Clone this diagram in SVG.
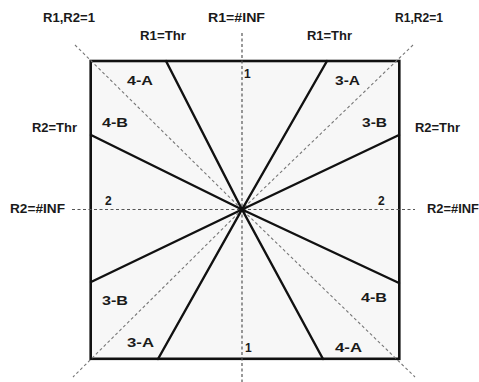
<svg xmlns="http://www.w3.org/2000/svg" width="479" height="382" viewBox="0 0 479 382">
<style>
.t{font-family:"Liberation Sans",Arial,sans-serif;font-size:12px;font-weight:bold;fill:#1a1a1a}
.dash{stroke:#555;stroke-width:1.2;stroke-dasharray:3 2.5;fill:none}
.diag{stroke:#777;stroke-width:1.1;stroke-dasharray:3 2.5;fill:none}
.solid{stroke:#111;stroke-width:2.4;fill:none;stroke-linecap:round}
</style>
<rect width="479" height="382" fill="#fff"/>
<g id="frame">
<rect x="90.7" y="61" width="308.6" height="297.8" fill="#f7f7f7" stroke="#111" stroke-width="2.6"/>
</g>
<g id="connectors">
<line class="dash" x1="242" y1="33" x2="242" y2="382"/>
<line class="dash" x1="72" y1="209.5" x2="415" y2="209.5"/>
<path class="diag" d="M75 45 L242 209.5 L415 377"/>
<path class="diag" d="M413 45 L242 209.5 L73 377"/>
<path class="solid" d="M166 61 L242 209.5 L327 61"/>
<path class="solid" d="M91 135 L242 209.5 L399 135"/>
<path class="solid" d="M91 282 L242 209.5 L399 283"/>
<path class="solid" d="M158 359 L242 209.5 L323 359"/>
</g>
<g id="labels">
<text class="t" x="43" y="22" textLength="52" lengthAdjust="spacingAndGlyphs">R1,R2=1</text>
<text class="t" x="140" y="40" textLength="46" lengthAdjust="spacingAndGlyphs">R1=Thr</text>
<text class="t" x="208" y="22" textLength="57" lengthAdjust="spacingAndGlyphs">R1=#INF</text>
<text class="t" x="307" y="40" textLength="45" lengthAdjust="spacingAndGlyphs">R1=Thr</text>
<text class="t" x="395" y="22" textLength="48" lengthAdjust="spacingAndGlyphs">R1,R2=1</text>
<text class="t" x="32" y="132" textLength="45" lengthAdjust="spacingAndGlyphs">R2=Thr</text>
<text class="t" x="10" y="213" textLength="55" lengthAdjust="spacingAndGlyphs">R2=#INF</text>
<text class="t" x="415" y="132" textLength="45" lengthAdjust="spacingAndGlyphs">R2=Thr</text>
<text class="t" x="427" y="213" textLength="52" lengthAdjust="spacingAndGlyphs">R2=#INF</text>
</g>
<g id="regions">
<text class="t" x="127" y="85" textLength="26" lengthAdjust="spacingAndGlyphs">4-A</text>
<text class="t" x="244" y="78">1</text>
<text class="t" x="335" y="85" textLength="25" lengthAdjust="spacingAndGlyphs">3-A</text>
<text class="t" x="102" y="127" textLength="26" lengthAdjust="spacingAndGlyphs">4-B</text>
<text class="t" x="362" y="127" textLength="25" lengthAdjust="spacingAndGlyphs">3-B</text>
<text class="t" x="105" y="205">2</text>
<text class="t" x="378" y="205">2</text>
<text class="t" x="102" y="305" textLength="26" lengthAdjust="spacingAndGlyphs">3-B</text>
<text class="t" x="361" y="302" textLength="26" lengthAdjust="spacingAndGlyphs">4-B</text>
<text class="t" x="127" y="347" textLength="27" lengthAdjust="spacingAndGlyphs">3-A</text>
<text class="t" x="245" y="352">1</text>
<text class="t" x="335" y="352" textLength="27" lengthAdjust="spacingAndGlyphs">4-A</text>
</g>
</svg>
